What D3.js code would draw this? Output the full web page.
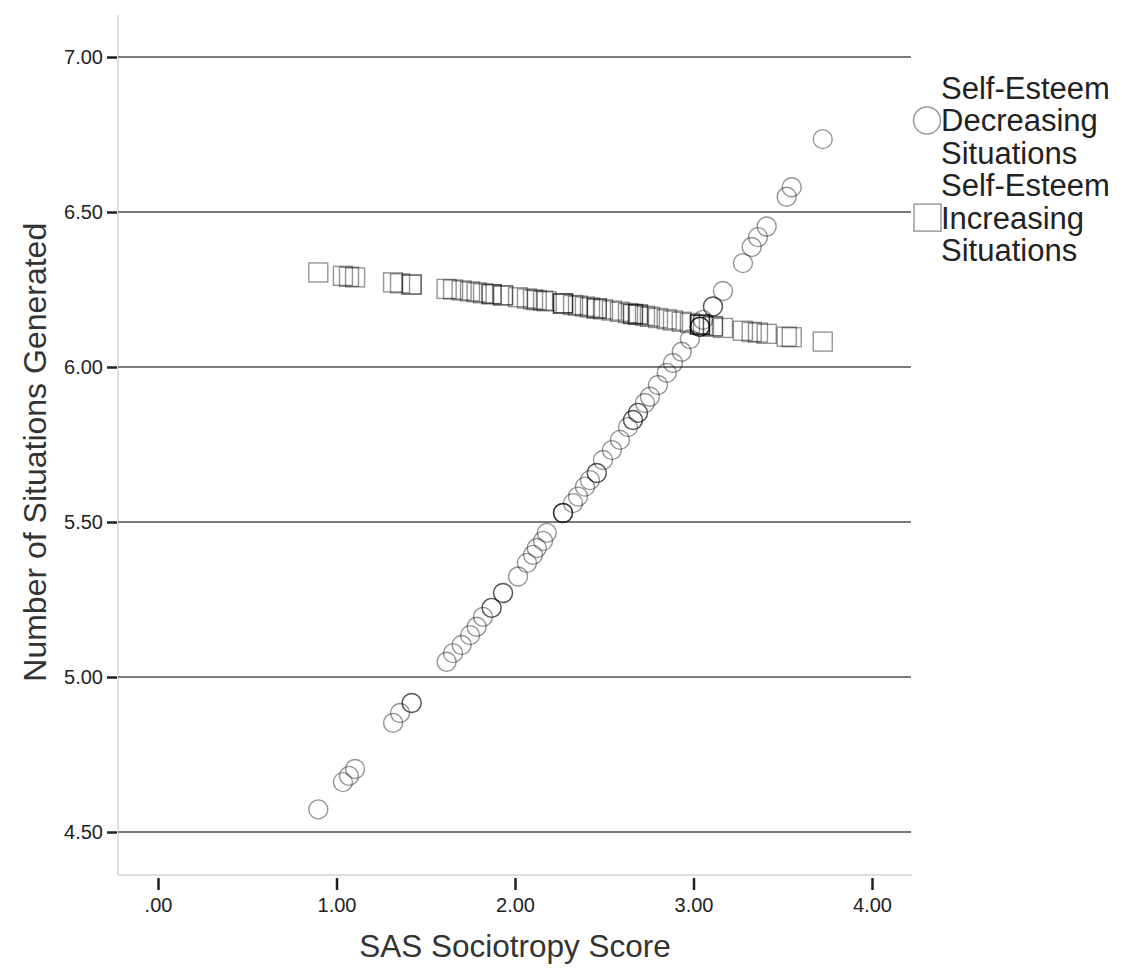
<!DOCTYPE html>
<html>
<head>
<meta charset="utf-8">
<script src="https://cdn.jsdelivr.net/npm/d3@7/dist/d3.min.js"></script>
<style>
  html, body { margin: 0; padding: 0; background: #fff; }
  svg { display: block; font-family: Arial, "Liberation Sans", sans-serif; }
</style>
</head>
<body>
<svg id="chart" width="1122" height="973"></svg>
<script>
// SAS sociotropy score of each participant group (x)
const sociotropy = [0.898, 1.036, 1.070, 1.104, 1.317, 1.356, 1.421, 1.617, 1.653, 1.701,
  1.748, 1.785, 1.821, 1.869, 1.933, 2.017, 2.067, 2.101, 2.122, 2.157,
  2.178, 2.269, 2.325, 2.353, 2.392, 2.420, 2.458, 2.493, 2.543, 2.588,
  2.633, 2.661, 2.689, 2.728, 2.756, 2.801, 2.850, 2.885, 2.934, 2.980,
  3.036, 3.053, 3.109, 3.165, 3.277, 3.326, 3.361, 3.410, 3.522, 3.550, 3.724];

// number of participants sharing each score
const participants = [1, 1, 1, 1, 1, 1, 2, 1, 1, 1,
  1, 1, 1, 2, 2, 1, 1, 1, 1, 1,
  1, 3, 1, 1, 1, 1, 2, 1, 1, 1,
  1, 2, 2, 1, 1, 1, 1, 1, 1, 1,
  3, 1, 2, 1, 1, 1, 1, 1, 1, 1, 1];

// predicted number of situations generated: self-esteem decreasing situations
const decreasing = [4.573, 4.661, 4.681, 4.703, 4.852, 4.884, 4.916, 5.049, 5.077, 5.103,
  5.135, 5.162, 5.194, 5.223, 5.271, 5.324, 5.368, 5.394, 5.416, 5.439,
  5.465, 5.529, 5.561, 5.582, 5.614, 5.635, 5.658, 5.700, 5.732, 5.765,
  5.806, 5.829, 5.852, 5.884, 5.904, 5.942, 5.981, 6.013, 6.049, 6.090,
  6.130, 6.152, 6.195, 6.245, 6.335, 6.387, 6.419, 6.453, 6.549, 6.580, 6.735];

// predicted number of situations generated: self-esteem increasing situations
const increasing = [6.305, 6.294, 6.291, 6.289, 6.273, 6.270, 6.266, 6.252, 6.250, 6.247,
  6.244, 6.241, 6.238, 6.235, 6.231, 6.225, 6.221, 6.218, 6.216, 6.214,
  6.212, 6.205, 6.200, 6.198, 6.195, 6.192, 6.189, 6.186, 6.182, 6.178,
  6.174, 6.171, 6.169, 6.165, 6.162, 6.158, 6.154, 6.150, 6.146, 6.142,
  6.137, 6.135, 6.131, 6.126, 6.117, 6.113, 6.111, 6.107, 6.098, 6.096, 6.082];

const xTicks = [0, 1, 2, 3, 4];
const yTicks = [4.5, 5.0, 5.5, 6.0, 6.5, 7.0];
const seriesNames = [
  ["Self-Esteem", "Decreasing", "Situations"],
  ["Self-Esteem", "Increasing", "Situations"]
];

const svg = d3.select("#chart");
const frame = { left: 118, right: 912, top: 15, bottom: 875 };

const x = d3.scaleLinear().domain([0, 4]).range([158, 872]);
const y = d3.scaleLinear().domain([4.5, 7]).range([832, 57]);

const fmt = v => d3.format(".2f")(v).replace(/^0/, "");

// frame lines (left and bottom)
svg.append("line")
  .attr("x1", frame.left).attr("x2", frame.left)
  .attr("y1", frame.top).attr("y2", frame.bottom)
  .attr("stroke", "#d4d4d4").attr("stroke-width", 1.5);
svg.append("line")
  .attr("x1", frame.left).attr("x2", frame.right)
  .attr("y1", frame.bottom).attr("y2", frame.bottom)
  .attr("stroke", "#d4d4d4").attr("stroke-width", 1.5);

// horizontal reference lines
svg.append("g").selectAll("line").data(yTicks).join("line")
  .attr("x1", frame.left).attr("x2", frame.right - 1)
  .attr("y1", d => y(d)).attr("y2", d => y(d))
  .attr("stroke", "#7a7a7a").attr("stroke-width", 2);

// y axis
const yAxis = d3.axisLeft(y).tickValues(yTicks).tickFormat(fmt).tickSize(10).tickPadding(4);
const gy = svg.append("g").attr("transform", `translate(${frame.left - 1},0)`).call(yAxis);
gy.select(".domain").remove();
gy.selectAll(".tick line").attr("stroke", "#222").attr("stroke-width", 2.5);
gy.selectAll(".tick text")
  .attr("font-size", 20).attr("fill", "#222")
  .attr("font-family", "Arial, 'Liberation Sans', sans-serif");

// x axis
const xAxis = d3.axisBottom(x).tickValues(xTicks).tickFormat(fmt).tickSize(12).tickPadding(8);
const gx = svg.append("g").attr("transform", `translate(0,${frame.bottom + 3})`).call(xAxis);
gx.select(".domain").remove();
gx.selectAll(".tick line").attr("stroke", "#222").attr("stroke-width", 2.5);
gx.selectAll(".tick text")
  .attr("font-size", 20).attr("fill", "#222")
  .attr("font-family", "Arial, 'Liberation Sans', sans-serif");

// axis titles
svg.append("text")
  .attr("x", x(2)).attr("y", 957)
  .attr("text-anchor", "middle")
  .attr("font-size", 31.5).attr("fill", "#333")
  .text("SAS Sociotropy Score");

svg.append("text")
  .attr("transform", `translate(46,${y(5.725)}) rotate(-90)`)
  .attr("text-anchor", "middle")
  .attr("font-size", 32).attr("fill", "#333")
  .text("Number of Situations Generated");

// expand each score by the number of participants sharing it
const rows = [];
sociotropy.forEach((s, i) => {
  for (let k = 0; k < participants[i]; k++) {
    rows.push({ s, dec: decreasing[i], inc: increasing[i] });
  }
});

const markerStroke = "#000";
const markerOpacity = 0.42;
const side = 19;

// increasing situations: squares
svg.append("g").selectAll("rect").data(rows).join("rect")
  .attr("x", d => x(d.s) - side / 2)
  .attr("y", d => y(d.inc) - side / 2)
  .attr("width", side).attr("height", side)
  .attr("fill", "none")
  .attr("stroke", markerStroke).attr("stroke-opacity", markerOpacity)
  .attr("stroke-width", 1.4);

// decreasing situations: circles
svg.append("g").selectAll("circle").data(rows).join("circle")
  .attr("cx", d => x(d.s))
  .attr("cy", d => y(d.dec))
  .attr("r", 9.5)
  .attr("fill", "none")
  .attr("stroke", markerStroke).attr("stroke-opacity", markerOpacity)
  .attr("stroke-width", 1.4);

// legend: three text lines per series, symbol beside the middle line
const legend = svg.append("g");
const lineStep = 32.4;
const firstBaseline = 99;
seriesNames.forEach((lines, i) => {
  const g = legend.append("g");
  const top = firstBaseline + i * 3 * lineStep;
  lines.forEach((t, j) => {
    g.append("text")
      .attr("x", 941).attr("y", top + j * lineStep)
      .attr("font-size", 31).attr("fill", "#222")
      .text(t);
  });
  const cy = top + lineStep - 11;
  if (i === 0) {
    g.append("circle").attr("cx", 927).attr("cy", cy).attr("r", 13.5)
      .attr("fill", "none").attr("stroke", "#9a9a9a").attr("stroke-width", 1.5);
  } else {
    g.append("rect").attr("x", 914).attr("y", cy - 13.5).attr("width", 27).attr("height", 27)
      .attr("fill", "none").attr("stroke", "#9a9a9a").attr("stroke-width", 1.5);
  }
});
</script>
</body>
</html>
